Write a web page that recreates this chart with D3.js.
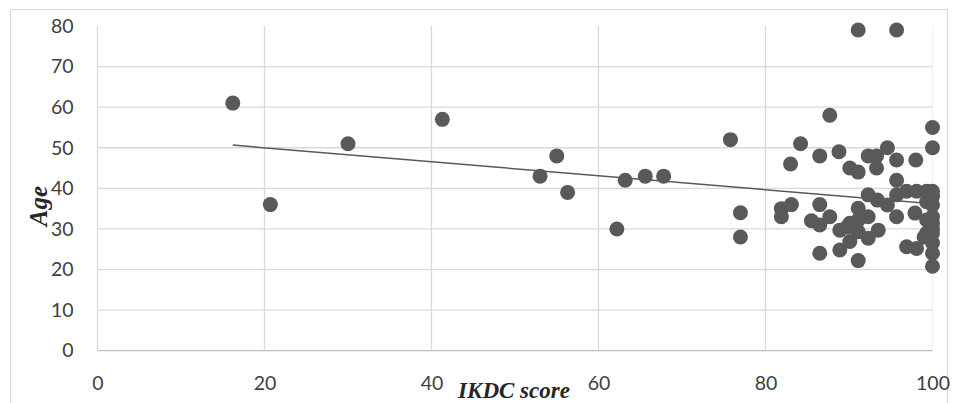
<!DOCTYPE html>
<html>
<head>
<meta charset="utf-8">
<script src="https://cdn.jsdelivr.net/npm/d3@7"></script>
<style>
  body { margin: 0; background: #fff; }
  svg { display: block; }
</style>
</head>
<body>
<div id="chart"></div>
<script>
// IKDC score (x) and age (y) for each patient
const ikdcScore = [
  16.2, 20.7, 30, 41.3, 53, 55, 56.3, 62.2, 63.2, 65.6, 67.8, 75.8, 77, 77,
  91.1, 95.7,
  87.7, 84.2, 83, 86.5, 88.8, 90.1, 91.1, 92.3, 93.3, 93.3, 94.6, 95.7, 98, 100, 100, 95.7,
  81.9, 83.1, 81.9, 86.5, 85.5, 86.5, 87.7, 88.9, 90.1, 88.9, 86.5,
  92.3, 93.4, 94.6, 95.7, 96.9, 98.1, 99.3, 100, 99.3, 100, 100,
  97.9, 95.7, 99.3, 100, 99.3, 100, 100, 100, 100, 100, 100,
  96.9, 98.1, 91.1, 91.1, 92.3, 91.1, 93.5, 92.3, 90.1, 99, 91.1, 89.8
];
const age = [
  61, 36, 51, 57, 43, 48, 39, 30, 42, 43, 43, 52, 34, 28,
  79, 79,
  58, 51, 46, 48, 49, 45, 44, 48, 48, 45, 50, 47, 47, 55, 50, 42,
  35, 36, 33, 36, 32, 31, 33, 29.7, 31.4, 24.8, 24,
  38.4, 37.1, 35.9, 38.4, 39.3, 39.3, 39.3, 39.3, 36.7, 35.9, 38,
  33.9, 33, 32.2, 31.4, 29, 28.9, 26.6, 24, 20.8, 30, 33,
  25.6, 25.2, 22.2, 35.1, 33, 32.2, 29.7, 27.7, 26.9, 28, 29.3, 30.5
];
const xTicks = [0, 20, 40, 60, 80, 100];
const yTicks = [0, 10, 20, 30, 40, 50, 60, 70, 80];
const xTitle = "IKDC score";
const yTitle = "Age";

const points = ikdcScore.map((x, i) => ({x: x, y: age[i]}));

const size = {width: 957, height: 403};
const margin = {top: 26, right: 24.5, bottom: 52.3, left: 97.5};
const width = size.width - margin.left - margin.right;
const height = size.height - margin.top - margin.bottom;

const svg = d3.select("#chart").append("svg")
    .attr("width", size.width)
    .attr("height", size.height);

// chart border
svg.append("rect")
    .attr("x", 10.5).attr("y", 9.5)
    .attr("width", 937).attr("height", 420)
    .attr("fill", "none")
    .attr("stroke", "#d9d9d9");

const g = svg.append("g")
    .attr("transform", "translate(" + margin.left + "," + margin.top + ")");

const xScale = d3.scaleLinear().domain([0, 100]).range([0, width]);
const yScale = d3.scaleLinear().domain([0, 80]).range([height, 0]);

// gridlines
g.append("g").attr("class", "xGrid")
    .selectAll("line")
    .data(xTicks.filter(d => d > 0))
    .join("line")
    .attr("x1", d => xScale(d)).attr("x2", d => xScale(d))
    .attr("y1", 0).attr("y2", height)
    .attr("stroke", d => d === 100 ? "#f2f2f2" : "#d9d9d9")
    .attr("stroke-width", 1.3);

g.append("g").attr("class", "yGrid")
    .selectAll("line")
    .data(yTicks.filter(d => d > 0 && d < 80))
    .join("line")
    .attr("x1", 0).attr("x2", width)
    .attr("y1", d => yScale(d)).attr("y2", d => yScale(d))
    .attr("stroke", "#d9d9d9")
    .attr("stroke-width", 1.3);

// axes
const xAxisG = g.append("g")
    .attr("class", "xAxisG")
    .attr("transform", "translate(0," + height + ")")
    .call(d3.axisBottom(xScale).tickValues(xTicks).tickSize(0).tickPadding(0));
xAxisG.select(".domain").remove();
xAxisG.append("line")
    .attr("x1", 0).attr("x2", width)
    .attr("stroke", "#bfbfbf").attr("stroke-width", 1.3);
xAxisG.selectAll("text")
    .attr("y", 32)
    .attr("dy", "0.35em");

const yAxisG = g.append("g")
    .attr("class", "yAxisG")
    .call(d3.axisLeft(yScale).tickValues(yTicks).tickSize(0).tickPadding(24));
yAxisG.select(".domain").remove();
yAxisG.append("line")
    .attr("y1", 0).attr("y2", height)
    .attr("stroke", "#d9d9d9").attr("stroke-width", 1.3);

g.selectAll(".xAxisG text, .yAxisG text")
    .attr("font-family", "Lato, 'Open Sans', sans-serif")
    .attr("font-size", 19.5)
    .attr("fill", "#404040");

// linear trendline (least squares)
const mx = d3.mean(points, d => d.x);
const my = d3.mean(points, d => d.y);
const slope = d3.sum(points, d => (d.x - mx) * (d.y - my)) / d3.sum(points, d => (d.x - mx) * (d.x - mx));
const intercept = my - slope * mx;
const xMin = d3.min(points, d => d.x);
const xMax = d3.max(points, d => d.x);

g.append("line")
    .attr("class", "trend")
    .attr("x1", xScale(xMin)).attr("y1", yScale(intercept + slope * xMin))
    .attr("x2", xScale(xMax)).attr("y2", yScale(intercept + slope * xMax))
    .attr("stroke", "#595959")
    .attr("stroke-width", 1.5);

// points
g.selectAll(".dot")
    .data(points)
    .join("circle")
    .attr("class", "dot")
    .attr("cx", d => xScale(d.x))
    .attr("cy", d => yScale(d.y))
    .attr("r", 7.5)
    .attr("fill", "#595959");

// axis titles
svg.append("text")
    .attr("x", 514).attr("y", 398)
    .attr("text-anchor", "middle")
    .attr("font-family", "'Liberation Serif', 'Times New Roman', serif")
    .attr("font-weight", "bold")
    .attr("font-style", "italic")
    .attr("font-size", 23)
    .attr("fill", "#262626")
    .text(xTitle);

svg.append("text")
    .attr("transform", "translate(47,206) rotate(-90)")
    .attr("text-anchor", "middle")
    .attr("font-family", "'Liberation Serif', 'Times New Roman', serif")
    .attr("font-weight", "bold")
    .attr("font-style", "italic")
    .attr("font-size", 25)
    .attr("fill", "#262626")
    .text(yTitle);
</script>
</body>
</html>
